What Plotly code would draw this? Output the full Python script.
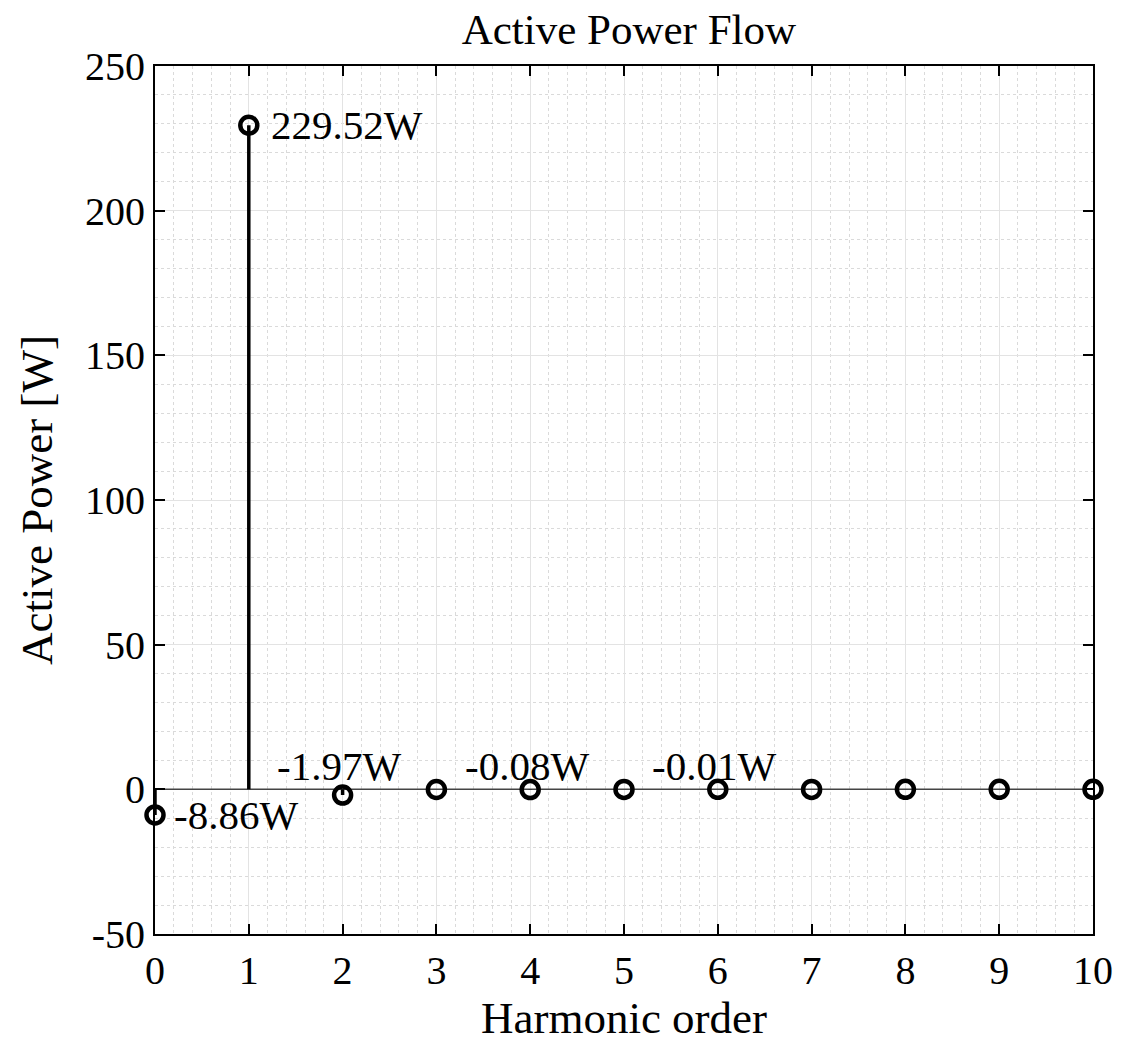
import plotly.graph_objects as go

harmonics = [0, 1, 2, 3, 4, 5, 6, 7, 8, 9, 10]
power = [-8.86, 229.52, -1.97, -0.05, -0.08, -0.03, -0.01, -0.02, -0.01, -0.01, -0.01]

label_x = [0.18, 1.22, 1.28, 3.28, 5.28]
label_y = [-8.86, 229.52, 8.0, 8.0, 8.0]
label_text = ["-8.86W", "229.52W", "-1.97W", "-0.08W", "-0.01W"]

y_ticks = [-50, 0, 50, 100, 150, 200, 250]
y_ticktext = ["-50", "0", "50", "100", "150", "200", "250"]
x_ticks = list(range(0, 11))

FONT = "Liberation Serif"

fig = go.Figure()

# baseline
fig.add_trace(go.Scatter(x=[harmonics[0], harmonics[-1]], y=[0, 0], mode="lines",
                         line=dict(color="#444444", width=1.5), hoverinfo="skip", showlegend=False))

# stems
sx, sy = [], []
for h, p in zip(harmonics, power):
    sx += [h, h, None]
    sy += [0, p, None]
fig.add_trace(go.Scatter(x=sx, y=sy, mode="lines", line=dict(color="black", width=3.5),
                         hoverinfo="skip", showlegend=False))

# markers
fig.add_trace(go.Scatter(x=harmonics, y=power, mode="markers",
                         marker=dict(symbol="circle-open", size=17, color="black",
                                     line=dict(width=4.5, color="black")),
                         showlegend=False, cliponaxis=False))

for lx, ly, lt in zip(label_x, label_y, label_text):
    fig.add_annotation(x=lx, y=ly, text=lt, showarrow=False, xanchor="left", yanchor="middle",
                       font=dict(family=FONT, size=41, color="black"))

axis_common = dict(showline=True, linecolor="black", linewidth=2, mirror="ticks",
                   ticks="inside", ticklen=10, tickwidth=2, tickcolor="black",
                   showgrid=True, gridcolor="#e3e3e3", gridwidth=1, zeroline=False,
                   automargin=False,
                   tickfont=dict(family=FONT, size=40, color="black"))

fig.update_xaxes(range=[0, 10], tickvals=x_ticks,
                 minor=dict(dtick=0.2, showgrid=True, gridcolor="#dadada", griddash="dot", gridwidth=1),
                 title=dict(text="Harmonic order", font=dict(family=FONT, size=45, color="black"), standoff=8),
                 **axis_common)
fig.update_yaxes(range=[-50, 250], tickvals=y_ticks, ticktext=y_ticktext,
                 minor=dict(dtick=10, showgrid=True, gridcolor="#dadada", griddash="dot", gridwidth=1),
                 title=dict(text="Active Power [W]", font=dict(family=FONT, size=45, color="black"), standoff=18),
                 **axis_common)

fig.update_layout(
    width=1135, height=1036,
    margin=dict(l=147, r=50, t=58, b=110, autoexpand=False),
    plot_bgcolor="white", paper_bgcolor="white",
    title=dict(text="Active Power Flow", x=0.547, xanchor="center", y=1 - 21 / 1036,
               yanchor="middle", yref="container", automargin=False,
               font=dict(family=FONT, size=43, color="black")),
)

fig.write_html("out.html")
